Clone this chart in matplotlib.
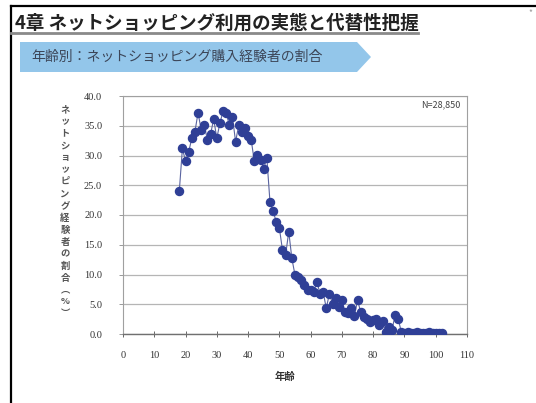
import matplotlib
matplotlib.use("Agg")
import matplotlib.pyplot as plt
from matplotlib.patches import Polygon
from matplotlib.lines import Line2D

plt.rcParams['font.family'] = ['Noto Sans CJK JP', 'DejaVu Sans']

# 年齢ごとのネットショッピング購入経験者の割合（%）
ages = list(range(18, 103))
share = [
    24.0, 31.2, 29.0, 30.6, 32.9, 34.0, 37.2, 34.3, 35.1, 32.6,   # 18-27
    33.6, 36.1, 32.9, 35.5, 37.4, 37.1, 35.1, 36.5, 32.3, 35.1,   # 28-37
    33.9, 34.6, 33.2, 32.6, 29.0, 30.1, 29.3, 27.8, 29.5, 22.2,   # 38-47
    20.6, 18.9, 17.8, 14.1, 13.3, 17.2, 12.7, 9.9, 9.6, 9.1,      # 48-57
    8.2, 7.4, 7.4, 7.0, 8.8, 6.8, 7.1, 4.3, 6.8, 5.1,             # 58-67
    6.0, 4.5, 5.7, 3.7, 3.5, 4.4, 3.0, 5.7, 3.7, 2.8,             # 68-77
    2.6, 2.1, 2.4, 2.6, 1.5, 2.2, 0.4, 1.2, 0.6, 3.2,             # 78-87
    2.6, 0.3, 0.2, 0.3, 0.1, 0.2, 0.3, 0.1, 0.2, 0.1,             # 88-97
    0.3, 0.1, 0.2, 0.1, 0.2,                                      # 98-102
]

title = "4章 ネットショッピング利用の実態と代替性把握"
subtitle = "年齢別：ネットショッピング購入経験者の割合"
# vertical-form brackets so the stacked label reads top to bottom
ylabel = "ネットショッピング経験者の割合︵%︶"
xlabel = "年齢"
note = "N=28,850"

W, H = 536, 403
fig = plt.figure(figsize=(W / 100, H / 100), dpi=100)

# outer frame (top and left)
fig.add_artist(Line2D([11 / W, 1], [1 - 6 / H, 1 - 6 / H], color='black', lw=1.6))
fig.add_artist(Line2D([11 / W, 11 / W], [0, 1 - 6 / H], color='black', lw=1.6))

# chapter heading with underline
fig.text(15 / W, 1 - 23 / H, title, fontsize=13.3, fontweight='bold',
         color='#222222', va='center', ha='left')
fig.add_artist(Line2D([11 / W, 418 / W], [1 - 33 / H, 1 - 33 / H],
                      color='#8a8a8a', lw=2))

# arrow banner
pts = [(20, 42), (357, 42), (371, 57), (357, 72), (20, 72)]
fig.add_artist(Polygon([(x / W, 1 - y / H) for x, y in pts], closed=True,
                       transform=fig.transFigure, facecolor='#93c6ea',
                       edgecolor='none'))
fig.text(31 / W, 1 - 57 / H, subtitle, fontsize=10, color='#3c4658',
         va='center', ha='left')

# plot area
ax = fig.add_axes([123 / W, 1 - 334 / H, 344 / W, 238 / H])
ax.plot(ages, share, color='#5a64a0', lw=0.8, marker='o', markersize=5.8,
        markerfacecolor='#2f3f96', markeredgecolor='#2f3f96', zorder=3)

ax.set_xlim(0, 110)
ax.set_ylim(0, 40)
ax.set_xticks(range(0, 111, 10))
ax.set_yticks(range(0, 41, 5))
ax.set_yticklabels([f"{v:.1f}" for v in range(0, 41, 5)])
for lab in ax.get_xticklabels() + ax.get_yticklabels():
    lab.set_family('Liberation Serif')
    lab.set_fontsize(7.5)
    lab.set_color('#333333')
ax.tick_params(axis='x', direction='inout', length=4, width=0.7,
               color='#666666', pad=10)
ax.tick_params(axis='y', direction='out', length=3, width=0.7,
               color='#999999', pad=12)
ax.grid(axis='y', color='#b5b5b5', lw=0.9)
ax.set_axisbelow(True)
for side in ('left', 'right', 'top'):
    ax.spines[side].set_color('#a0a0a0')
ax.spines['bottom'].set_color('#707070')
ax.spines['bottom'].set_linewidth(1.0)

ax.set_xlabel(xlabel, fontsize=7.5, fontweight='bold', color='#333333')
ax.xaxis.set_label_coords(0.47, -0.16)
ax.text(108, 38.5, note, fontsize=6.5, color='#444444', ha='right',
        va='center')

# y-axis title as upright stacked characters
fig.text(65 / W, 1 - 212 / H, "\n".join(ylabel), fontsize=6.7,
         color='#555555', ha='center', va='center', linespacing=1.42,
         fontweight='bold')

fig.text(530 / W, 1 - 13 / H, "*", fontsize=6, color='#999999',
         ha='center', va='center')

fig.savefig('out.png', dpi=100)
